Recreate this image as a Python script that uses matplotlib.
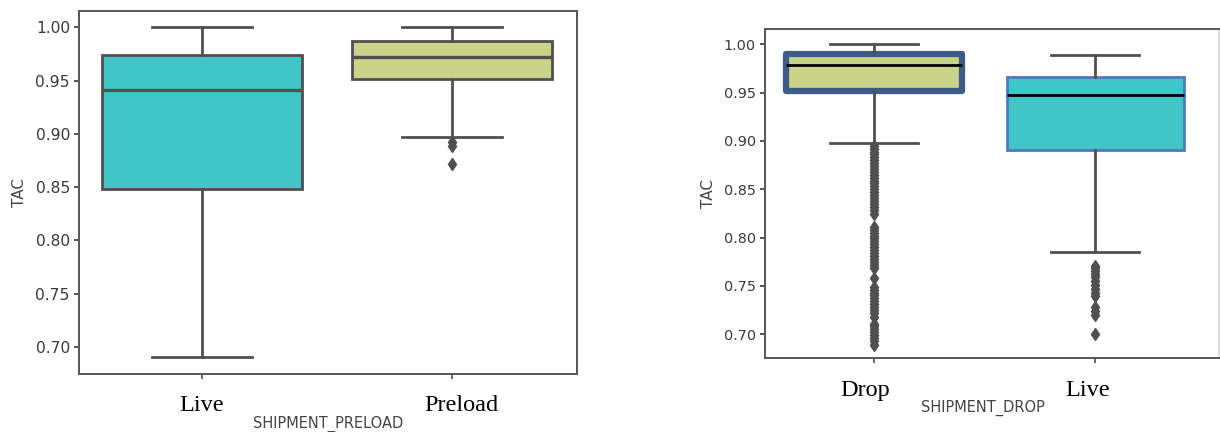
import matplotlib
matplotlib.use("Agg")
import matplotlib.pyplot as plt
import matplotlib.transforms as mtransforms
from matplotlib.ticker import FormatStrFormatter

# ---------------- data ----------------
left_categories = ["Live", "Preload"]
left_whislo = [0.691, 0.897]
left_q1 = [0.848, 0.951]
left_med = [0.941, 0.9725]
left_q3 = [0.974, 0.9875]
left_whishi = [1.000, 1.000]
left_fliers = [[], [0.892, 0.889, 0.872]]

right_categories = ["Drop", "Live"]
right_whislo = [0.898, 0.785]
right_q1 = [0.952, 0.891]
right_med = [0.979, 0.948]
right_q3 = [0.990, 0.966]
right_whishi = [1.000, 0.9886]
right_fliers = [
    [0.895, 0.892, 0.889, 0.886, 0.883, 0.880, 0.877, 0.874, 0.871, 0.868,
     0.865, 0.862, 0.859, 0.856, 0.853, 0.850, 0.847, 0.844, 0.841, 0.838,
     0.835, 0.832, 0.829, 0.824, 0.811, 0.808, 0.805, 0.802, 0.799, 0.796,
     0.793, 0.790, 0.787, 0.784, 0.781, 0.778, 0.775, 0.772, 0.768, 0.758,
     0.749, 0.746, 0.743, 0.740, 0.737, 0.734, 0.731, 0.728, 0.725, 0.722,
     0.718, 0.711, 0.708, 0.705, 0.702, 0.699, 0.696, 0.693, 0.689],
    [0.771, 0.768, 0.765, 0.762, 0.759, 0.755, 0.751, 0.747, 0.743, 0.739,
     0.728, 0.724, 0.720, 0.700],
]

y_ticks = [0.70, 0.75, 0.80, 0.85, 0.90, 0.95, 1.00]

# ---------------- style ----------------
TURQ = "#40C6C6"
KHAKI = "#CBD28A"
GRAY = "#505050"
DROP_EDGE = "#3D5B87"
LIVE_EDGE = "#4C79C2"

fig = plt.figure(figsize=(12.2, 4.32), dpi=100)
ax1 = fig.add_axes([79 / 1220, 1 - 373.7 / 432, 498 / 1220, 363 / 432])
ax2 = fig.add_axes([765 / 1220, 1 - 358.3 / 432, 454 / 1220, 329 / 432])


def stats(cats, lo, q1, med, q3, hi, fl):
    out = []
    for i, c in enumerate(cats):
        out.append(dict(label=c, whislo=lo[i], q1=q1[i], med=med[i],
                        q3=q3[i], whishi=hi[i], fliers=fl[i]))
    return out


flierprops = dict(marker="d", markerfacecolor=GRAY, markeredgecolor=GRAY,
                  markersize=6.5, linestyle="none")

# left panel
bp1 = ax1.bxp(stats(left_categories, left_whislo, left_q1, left_med, left_q3,
                    left_whishi, left_fliers),
              positions=[0, 1], widths=0.8, patch_artist=True,
              showfliers=True, flierprops=flierprops,
              boxprops=dict(edgecolor=GRAY, linewidth=2),
              whiskerprops=dict(color=GRAY, linewidth=2),
              capprops=dict(color=GRAY, linewidth=2),
              medianprops=dict(color=GRAY, linewidth=2.4),
              capwidths=0.4)
for patch, col in zip(bp1["boxes"], [TURQ, KHAKI]):
    patch.set_facecolor(col)

# right panel
bp2 = ax2.bxp(stats(right_categories, right_whislo, right_q1, right_med,
                    right_q3, right_whishi, right_fliers),
              positions=[0, 1], widths=0.8, patch_artist=True,
              showfliers=True, flierprops=flierprops,
              boxprops=dict(edgecolor=GRAY, linewidth=2),
              whiskerprops=dict(color=GRAY, linewidth=2),
              capprops=dict(color=GRAY, linewidth=2),
              medianprops=dict(color="black", linewidth=2),
              capwidths=0.4)
bp2["boxes"][0].set_facecolor(KHAKI)
bp2["boxes"][0].set_edgecolor(DROP_EDGE)
bp2["boxes"][0].set_linewidth(4.5)
bp2["boxes"][0].set_joinstyle("round")
bp2["boxes"][1].set_facecolor(TURQ)
bp2["boxes"][1].set_edgecolor(LIVE_EDGE)
bp2["boxes"][1].set_linewidth(2)

serif = ["Liberation Serif", "DejaVu Serif"]

for ax, cats, xl, lab_fs, tick_fs in [
        (ax1, left_categories, (-0.491, 1.501), "SHIPMENT_PRELOAD", 11.2),
        (ax2, right_categories, (-0.493, 1.56), "SHIPMENT_DROP", 10.4)]:
    ax.set_xlim(*xl)
    ax.set_ylim(0.675, 1.0155)
    ax.set_yticks(y_ticks)
    ax.yaxis.set_major_formatter(FormatStrFormatter("%.2f"))
    ax.set_xticks([0, 1])
    ax.set_xticklabels(cats, fontfamily=serif, fontsize=17.5, color="black")
    ax.tick_params(axis="y", labelsize=tick_fs, colors="#3a3a3a",
                   length=3.5, width=1.2, pad=3)
    ax.tick_params(axis="x", length=3.5, width=1.2, colors=GRAY,
                   labelcolor="black", pad=12)
    for sp in ax.spines.values():
        sp.set_color("#555555")
        sp.set_linewidth(1.4)
    ax.set_ylabel("TAC", fontsize=11, color="#444444", labelpad=6)
    ax.set_xlabel(lab_fs, fontsize=10.5, color="#444444")

# small horizontal shifts of the pasted category labels, in pixels
label_shift = {(0, 1): 10, (1, 0): -9, (1, 1): -8}
for ai, ax in enumerate([ax1, ax2]):
    for li, lbl in enumerate(ax.get_xticklabels()):
        dx = label_shift.get((ai, li), 0)
        if dx:
            off = mtransforms.ScaledTranslation(dx / 100, 0, fig.dpi_scale_trans)
            lbl.set_transform(lbl.get_transform() + off)

ax1.xaxis.set_label_coords(0.5, -0.115)
ax2.xaxis.set_label_coords(0.48, -0.125)
ax2.spines["right"].set_color("#dddddd")

fig.savefig("out.png", dpi=100)
